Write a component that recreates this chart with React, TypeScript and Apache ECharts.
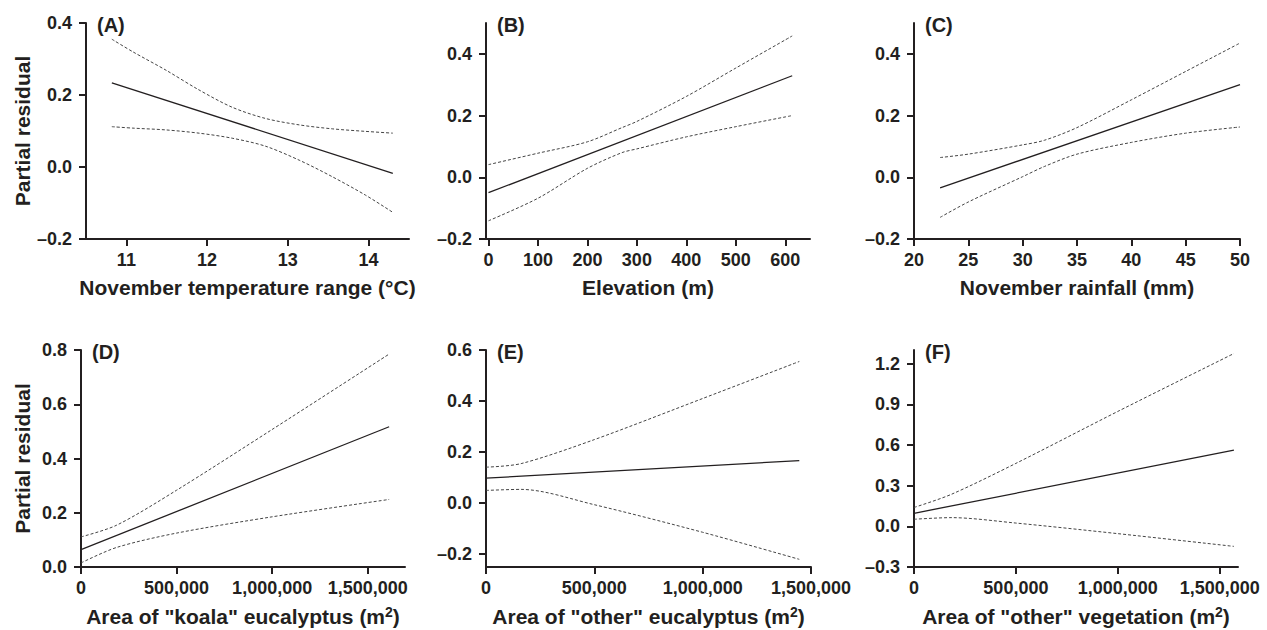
import React, { useEffect, useRef } from "react";
import * as echarts from "echarts";

const FONT = '"Liberation Sans", Arial, Helvetica, sans-serif';
const INK = "#231f20";

// ---------- Data ----------
// (A) November temperature range
const aBandX = [10.82, 11.08, 11.49, 11.9, 12.31, 12.72, 13.14, 13.55, 13.96, 14.3];
const aUpper = [0.355, 0.32, 0.269, 0.214, 0.166, 0.135, 0.117, 0.106, 0.099, 0.094];
const aLower = [0.112, 0.108, 0.103, 0.094, 0.08, 0.058, 0.019, -0.027, -0.078, -0.126];
const aFitX = [10.82, 14.3];
const aFit = [0.234, -0.018];

// (B) Elevation
const bBandX = [0, 100, 200, 270, 300, 400, 500, 614];
const bUpper = [0.041, 0.078, 0.115, 0.161, 0.181, 0.262, 0.354, 0.458];
const bLower = [-0.141, -0.068, 0.029, 0.08, 0.092, 0.131, 0.164, 0.2];
const bFitX = [0, 614];
const bFit = [-0.05, 0.329];

// (C) November rainfall
const cBandX = [22.4, 25, 30, 32, 35, 40, 45, 50];
const cUpper = [0.064, 0.075, 0.105, 0.12, 0.161, 0.251, 0.343, 0.435];
const cLower = [-0.13, -0.08, 0.002, 0.035, 0.075, 0.113, 0.143, 0.163];
const cFitX = [22.4, 50];
const cFit = [-0.034, 0.3];

// (D) Area of "koala" eucalyptus
const dBandX = [0, 186000, 500000, 1000000, 1612000];
const dUpper = [0.111, 0.154, 0.283, 0.507, 0.785];
const dLower = [0.015, 0.072, 0.125, 0.185, 0.249];
const dFitX = [0, 1612000];
const dFit = [0.064, 0.517];

// (E) Area of "other" eucalyptus
const eBandX = [0, 162000, 500000, 1000000, 1446000];
const eUpper = [0.141, 0.155, 0.249, 0.41, 0.555];
const eLower = [0.05, 0.054, -0.006, -0.114, -0.22];
const eFitX = [0, 1446000];
const eFit = [0.098, 0.167];

// (F) Area of "other" vegetation
const fBandX = [0, 182000, 500000, 1000000, 1570000];
const fUpper = [0.139, 0.235, 0.464, 0.847, 1.274];
const fLower = [0.052, 0.064, 0.024, -0.054, -0.148];
const fFitX = [0, 1570000];
const fFit = [0.096, 0.561];

// Tick labels
const aXTicks = [11, 12, 13, 14];
const bXTicks = [0, 100, 200, 300, 400, 500, 600];
const cXTicks = [20, 25, 30, 35, 40, 45, 50];
const areaTicks = [0, 500000, 1000000, 1500000];
const abcYTicks = [-0.2, 0, 0.2, 0.4];
const dYTicks = [0, 0.2, 0.4, 0.6, 0.8];
const eYTicks = [-0.2, 0, 0.2, 0.4, 0.6];
const fYTicks = [-0.3, 0, 0.3, 0.6, 0.9, 1.2];

const zip = (xs: number[], ys: number[]) => xs.map((x, i) => [x, ys[i]]);

const panels = [
  { tag: "(A)", xName: "November temperature range (°C)", yName: "Partial residual",
    bandX: aBandX, upper: aUpper, lower: aLower, fitX: aFitX, fit: aFit,
    xMin: 10.5, xMax: 14.5, xTicks: aXTicks, yMin: -0.2, yMax: 0.4, yTicks: abcYTicks, comma: false },
  { tag: "(B)", xName: "Elevation (m)", yName: "",
    bandX: bBandX, upper: bUpper, lower: bLower, fitX: bFitX, fit: bFit,
    xMin: -5, xMax: 650, xTicks: bXTicks, yMin: -0.2, yMax: 0.5, yTicks: abcYTicks, comma: false },
  { tag: "(C)", xName: "November rainfall (mm)", yName: "",
    bandX: cBandX, upper: cUpper, lower: cLower, fitX: cFitX, fit: cFit,
    xMin: 20, xMax: 50, xTicks: cXTicks, yMin: -0.2, yMax: 0.5, yTicks: abcYTicks, comma: false },
  { tag: "(D)", xName: 'Area of "koala" eucalyptus (m{sup|2})', yName: "Partial residual",
    bandX: dBandX, upper: dUpper, lower: dLower, fitX: dFitX, fit: dFit,
    xMin: 0, xMax: 1695000, xTicks: areaTicks, yMin: 0, yMax: 0.8, yTicks: dYTicks, comma: true },
  { tag: "(E)", xName: 'Area of "other" eucalyptus (m{sup|2})', yName: "",
    bandX: eBandX, upper: eUpper, lower: eLower, fitX: eFitX, fit: eFit,
    xMin: 0, xMax: 1500000, xTicks: areaTicks, yMin: -0.25, yMax: 0.6, yTicks: eYTicks, comma: true },
  { tag: "(F)", xName: 'Area of "other" vegetation (m{sup|2})', yName: "",
    bandX: fBandX, upper: fUpper, lower: fLower, fitX: fFitX, fit: fFit,
    xMin: 0, xMax: 1590000, xTicks: areaTicks, yMin: -0.3, yMax: 1.3, yTicks: fYTicks, comma: true },
];

// Layout (pixels)
const grids = [
  { left: 86, top: 23, width: 323, height: 216 },
  { left: 486, top: 23, width: 324, height: 216 },
  { left: 914, top: 23, width: 326, height: 216 },
  { left: 81, top: 350, width: 324, height: 217 },
  { left: 486, top: 350, width: 325, height: 217 },
  { left: 914, top: 350, width: 324, height: 217 },
];

const fmtY = (v: number) => (v < 0 ? "–" : "") + Math.abs(v).toFixed(1);
const fmtX = (comma: boolean) => (v: number) =>
  comma ? Math.round(v).toLocaleString("en-US") : String(Math.round(v));

export default function App() {
  const ref = useRef<HTMLDivElement>(null);
  useEffect(() => {
    if (!ref.current) return;
    const chart = echarts.init(ref.current, null, { renderer: "svg" });
    const axisLine = { show: true, onZero: false, lineStyle: { color: INK, width: 2 } };
    const labelStyle = { color: INK, fontFamily: FONT, fontWeight: "bold" as const, fontSize: 18 };
    const nameStyle = {
      color: INK, fontFamily: FONT, fontWeight: "bold" as const, fontSize: 21,
      rich: {
        sup: { color: INK, fontFamily: FONT, fontWeight: "bold" as const, fontSize: 14, verticalAlign: "top" as const, padding: [0, 0, 8, 0] },
      },
    };
    const xAxis: any[] = [];
    const yAxis: any[] = [];
    const series: any[] = [];
    const graphic: any[] = [];
    panels.forEach((p, i) => {
      xAxis.push({
        type: "value", gridIndex: i, min: p.xMin, max: p.xMax,
        name: p.xName, nameLocation: "middle", nameGap: 38, nameTextStyle: nameStyle,
        axisLine,
        axisTick: { show: true, length: 7, lineStyle: { color: INK, width: 2 }, customValues: p.xTicks },
        axisLabel: { ...labelStyle, margin: 12, customValues: p.xTicks, formatter: fmtX(p.comma) },
        splitLine: { show: false },
      });
      yAxis.push({
        type: "value", gridIndex: i, min: p.yMin, max: p.yMax,
        name: p.yName, nameLocation: "middle", nameGap: 48, nameTextStyle: nameStyle,
        axisLine,
        axisTick: { show: true, length: 7, lineStyle: { color: INK, width: 2 }, customValues: p.yTicks },
        axisLabel: { ...labelStyle, margin: 14, customValues: p.yTicks, formatter: fmtY },
        splitLine: { show: false },
      });
      const dashed = { color: "#444", width: 1, type: [3, 2] };
      series.push(
        { type: "line", xAxisIndex: i, yAxisIndex: i, data: zip(p.bandX, p.upper), showSymbol: false, smooth: 0.3, lineStyle: dashed, silent: true },
        { type: "line", xAxisIndex: i, yAxisIndex: i, data: zip(p.bandX, p.lower), showSymbol: false, smooth: 0.3, lineStyle: dashed, silent: true },
        { type: "line", xAxisIndex: i, yAxisIndex: i, data: zip(p.fitX, p.fit), showSymbol: false, lineStyle: { color: INK, width: 1.3 }, silent: true },
      );
      graphic.push({
        type: "text", left: grids[i].left + 11, top: grids[i].top - 8,
        style: { text: p.tag, fill: INK, font: `bold 20px ${FONT}` },
      });
    });
    chart.setOption({
      animation: false,
      backgroundColor: "#fff",
      grid: grids.map((g) => ({ ...g, containLabel: false })),
      xAxis, yAxis, series, graphic,
    });
    return () => chart.dispose();
  }, []);
  return <div ref={ref} style={{ position: "fixed", left: 0, top: 0, width: 1267, height: 630 }} />;
}
